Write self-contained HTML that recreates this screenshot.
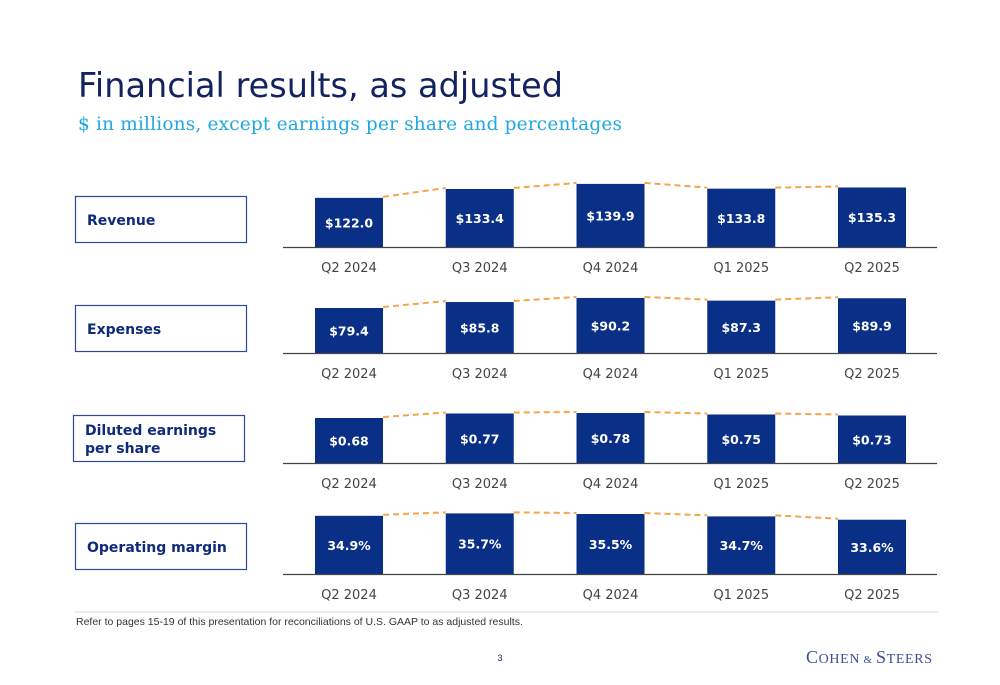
<!DOCTYPE html>
<html><head><meta charset="utf-8"><style>
body{margin:0;background:#fff;}
svg{display:block;}
</style></head><body>
<svg id="s" width="1000" height="685" viewBox="0 0 1000 685" xmlns="http://www.w3.org/2000/svg">
<text x="78" y="97" font-family="'DejaVu Sans','Liberation Sans',sans-serif" font-size="33.5" fill="#13235f" textLength="485">Financial results, as adjusted</text>
<text x="78" y="130" font-family="'DejaVu Serif','Liberation Serif',serif" font-size="18.5" fill="#1fa8e0" textLength="544">$ in millions, except earnings per share and percentages</text>
<g id="charts"></g>
<line x1="75" y1="612" x2="938" y2="612" stroke="#d9d9d9" stroke-width="1"/>
<text x="76" y="625" font-family="'Liberation Sans',sans-serif" font-size="10.5" fill="#333">Refer to pages 15-19 of this presentation for reconciliations of U.S. GAAP to as adjusted results.</text>
<text x="500" y="661" text-anchor="middle" font-family="'Liberation Sans',sans-serif" font-size="9" fill="#1a2a6c">3</text>
<text x="806" y="663" font-family="'Liberation Serif',serif" font-size="18" fill="#3a4f9a" textLength="126">C<tspan font-size="14">OHEN</tspan><tspan font-size="11"> &amp; </tspan>S<tspan font-size="14">TEERS</tspan></text>
</svg>
<script>
const categories = ["Q2 2024","Q3 2024","Q4 2024","Q1 2025","Q2 2025"];
const revenueValues = [122.0,133.4,139.9,133.8,135.3];
const revenueLabels = ["$122.0","$133.4","$139.9","$133.8","$135.3"];
const expenseValues = [79.4,85.8,90.2,87.3,89.9];
const expenseLabels = ["$79.4","$85.8","$90.2","$87.3","$89.9"];
const epsValues = [0.68,0.77,0.78,0.75,0.73];
const epsLabels = ["$0.68","$0.77","$0.78","$0.75","$0.73"];
const marginValues = [34.9,35.7,35.5,34.7,33.6];
const marginLabels = ["34.9%","35.7%","35.5%","34.7%","33.6%"];

const NS="http://www.w3.org/2000/svg";
const g=document.getElementById('charts');
function mk(tag,attrs,parent){const e=document.createElementNS(NS,tag);for(const k in attrs)e.setAttribute(k,attrs[k]);(parent||g).appendChild(e);return e;}
function xCenter(i){return 349+i*130.75;}
const panels=[
 {name:"revenue",title:["Revenue"],vals:revenueValues,labels:revenueLabels,base:247,min:59,scale:0.78,box:[75,196]},
 {name:"expenses",title:["Expenses"],vals:expenseValues,labels:expenseLabels,base:353,min:31,scale:0.93,box:[75,305]},
 {name:"eps",title:["Diluted earnings","per share"],vals:epsValues,labels:epsLabels,base:463,min:-0.22,scale:50,box:[73,415]},
 {name:"operating-margin",title:["Operating margin"],vals:marginValues,labels:marginLabels,base:574,min:15.5,scale:3,box:[75,523]}
];
panels.forEach(p=>{
 const grp=mk('g',{});
 
 
 const box=mk('rect',{x:p.box[0]+0.5,y:p.box[1]+0.5,width:171,height:46,fill:'#fff',stroke:'#2a4a9a','stroke-width':1.2},grp);
 
 
 const ty=p.title.length>1?p.box[1]+20:p.box[1]+29;
 p.title.forEach((t,j)=>{
  const tx=mk('text',{x:p.box[0]+12,y:ty+j*18,'font-family':"'DejaVu Sans','Liberation Sans',sans-serif",'font-size':14,'font-weight':'bold',fill:'#0f2a7a'},grp);
  tx.textContent=t;
  
  
 });
 const y=v=>p.base-(v-p.min)*p.scale;
 const bw=68;
 p.vals.forEach((v,i)=>{
  const cx=xCenter(i);
  const r=mk('rect',{x:cx-bw/2,y:y(v),width:bw,height:p.base-y(v),fill:'#0a2f87'},grp);
  
  
  const lt=mk('text',{x:cx,y:(y(v)+p.base)/2+5,'text-anchor':'middle','font-family':"'DejaVu Sans','Liberation Sans',sans-serif",'font-size':12.5,'font-weight':'bold',fill:'#fff'},grp);
  lt.textContent=p.labels[i];
  
  
  const ct=mk('text',{x:cx,y:p.base+25,'text-anchor':'middle','font-family':"'DejaVu Sans','Liberation Sans',sans-serif",'font-size':13,fill:'#444'},grp);
  ct.textContent=categories[i];
  
  
  if(i<p.vals.length-1){
   const ln=mk('line',{x1:cx+bw/2,y1:y(v)-1,x2:xCenter(i+1)-bw/2,y2:y(p.vals[i+1])-1,stroke:'#f5a54a','stroke-width':2,'stroke-dasharray':'6,4'},grp);
   
   
  }
 });
 const ax=mk('line',{x1:283,y1:p.base+0.5,x2:937,y2:p.base+0.5,stroke:'#444','stroke-width':1.2},grp);
 
 
});
</script>
</body></html>
